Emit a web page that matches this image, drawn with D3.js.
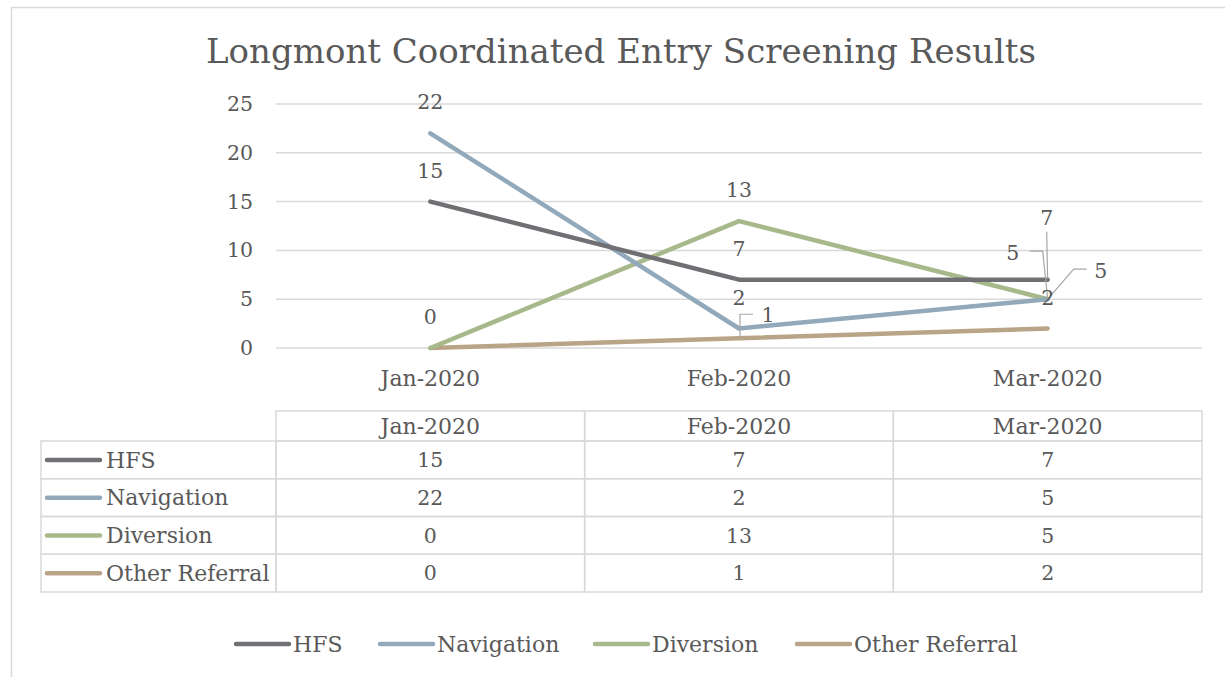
<!DOCTYPE html>
<html>
<head>
<meta charset="utf-8">
<script src="https://cdn.jsdelivr.net/npm/d3@7"></script>
<style>
  body { margin: 0; background: #fff; }
  text { font-family: "DejaVu Serif", serif; fill: #595959; }
</style>
</head>
<body>
<div id="chart"></div>
<script>
// chart data
var months = ["Jan-2020", "Feb-2020", "Mar-2020"];
var seriesNames = ["HFS", "Navigation", "Diversion", "Other Referral"];
var hfs = [15, 7, 7];
var navigation = [22, 2, 5];
var diversion = [0, 13, 5];
var otherReferral = [0, 1, 2];
var yTicks = [0, 5, 10, 15, 20, 25];

var colors = ["#706f74", "#91a9ba", "#a7b98a", "#b9a487"];
var allValues = [hfs, navigation, diversion, otherReferral];

var W = 1225, H = 677;
var plot = { left: 276, right: 1202, top: 104, bottom: 348 };
var wordSize = "22px", numSize = "20.5px";

var svg = d3.select("#chart").append("svg")
    .attr("width", W)
    .attr("height", H);

// outer chart border
svg.append("rect")
    .attr("x", 11.5).attr("y", 7.5)
    .attr("width", W).attr("height", H)
    .attr("fill", "#fff")
    .attr("stroke", "#d9d9d9")
    .attr("stroke-width", 1.5);

svg.append("text")
    .attr("x", 621).attr("y", 63)
    .attr("text-anchor", "middle")
    .style("font-size", "34px")
    .text("Longmont Coordinated Entry Screening Results");

var x = d3.scaleBand().domain(months).range([plot.left, plot.right]);
var y = d3.scaleLinear().domain([0, 25]).range([plot.bottom, plot.top]);

// gridlines
svg.append("g").selectAll("line")
    .data(yTicks)
    .enter().append("line")
    .attr("x1", plot.left).attr("x2", plot.right)
    .attr("y1", function (d) { return y(d); })
    .attr("y2", function (d) { return y(d); })
    .attr("stroke", "#d9d9d9")
    .attr("stroke-width", 1.5);

// y axis labels
var yAxis = svg.append("g")
    .attr("transform", "translate(" + (plot.left - 23) + ",0)")
    .call(d3.axisLeft(y).tickValues(yTicks).tickSize(0).tickPadding(0));
yAxis.select(".domain").remove();
yAxis.selectAll("text")
    .style("font-size", numSize)
    .style("font-family", "DejaVu Serif, serif")
    .attr("fill", "#595959");

// x axis labels
var xAxis = svg.append("g")
    .attr("transform", "translate(0," + plot.bottom + ")")
    .call(d3.axisBottom(x).tickSize(0).tickPadding(22));
xAxis.select(".domain").remove();
xAxis.selectAll("text")
    .style("font-size", wordSize)
    .style("font-family", "DejaVu Serif, serif")
    .attr("fill", "#595959");

var cx = function (i) { return x(months[i]) + x.bandwidth() / 2; };

var line = d3.line()
    .x(function (d, i) { return cx(i); })
    .y(function (d) { return y(d); });

// draw lines back to front so HFS sits on top like the original
[3, 2, 1, 0].forEach(function (s) {
    svg.append("path")
        .datum(allValues[s])
        .attr("d", line)
        .attr("fill", "none")
        .attr("stroke", colors[s])
        .attr("stroke-width", 4.5)
        .attr("stroke-linecap", "round")
        .attr("stroke-linejoin", "round");
});

// data labels: default is centred above the point; a few were dragged in the original
var labelMoves = {
    "3-0": null,               // hidden under the diversion 0
    "3-1": { dx: 29, dy: -23, leader: "h" },
    "0-2": { dx: -1, dy: -62, leader: "v" },
    "1-2": { dx: -35, dy: -46, leader: "l" },
    "2-2": { dx: 53, dy: -28, leader: "r" }
};

var labels = svg.append("g");
allValues.forEach(function (vals, s) {
    vals.forEach(function (v, i) {
        var key = s + "-" + i;
        var px = cx(i), py = y(v);
        if (key in labelMoves && labelMoves[key] === null) return;
        var m = labelMoves[key] || { dx: 0, dy: -31 };
        var lx = px + m.dx, ly = py + m.dy;
        if (m.leader) {
            var pts;
            if (m.leader === "h") pts = [[px + 1, py - 2], [px + 1, ly - 1], [px + 14, ly - 1]];
            if (m.leader === "v") pts = [[lx, ly + 14], [px, py - 1]];
            if (m.leader === "l") pts = [[lx + 17, ly - 2], [lx + 30, ly - 2], [px, py - 1]];
            if (m.leader === "r") pts = [[lx - 14, ly - 2], [lx - 27, ly - 2], [px, py]];
            labels.append("path")
                .attr("d", d3.line()(pts))
                .attr("fill", "none")
                .attr("stroke", "#a6a6a6")
                .attr("stroke-width", 1.2);
        }
        labels.append("text")
            .attr("x", lx).attr("y", ly)
            .attr("dy", "0.35em")
            .attr("text-anchor", "middle")
            .style("font-size", numSize)
            .text(v);
    });
});

// data table under the plot
var table = { top: 411, headH: 30, rowH: 37.75, left: 41 };
var tg = svg.append("g");
var gridColor = "#d9d9d9";

// header cells
months.forEach(function (m) {
    tg.append("rect")
        .attr("x", x(m)).attr("y", table.top)
        .attr("width", x.bandwidth()).attr("height", table.headH)
        .attr("fill", "none").attr("stroke", gridColor).attr("stroke-width", 1.5);
    tg.append("text")
        .attr("x", x(m) + x.bandwidth() / 2)
        .attr("y", table.top + table.headH / 2)
        .attr("dy", "0.35em")
        .attr("text-anchor", "middle")
        .style("font-size", wordSize)
        .text(m);
});

seriesNames.forEach(function (name, s) {
    var ry = table.top + table.headH + s * table.rowH;
    tg.append("rect")
        .attr("x", table.left).attr("y", ry)
        .attr("width", plot.left - table.left).attr("height", table.rowH)
        .attr("fill", "none").attr("stroke", gridColor).attr("stroke-width", 1.5);
    tg.append("line")
        .attr("x1", table.left + 6).attr("x2", table.left + 59)
        .attr("y1", ry + table.rowH / 2).attr("y2", ry + table.rowH / 2)
        .attr("stroke", colors[s]).attr("stroke-width", 4.5)
        .attr("stroke-linecap", "round");
    tg.append("text")
        .attr("x", table.left + 65).attr("y", ry + table.rowH / 2)
        .attr("dy", "0.35em")
        .style("font-size", wordSize)
        .text(name);
    months.forEach(function (m, i) {
        tg.append("rect")
            .attr("x", x(m)).attr("y", ry)
            .attr("width", x.bandwidth()).attr("height", table.rowH)
            .attr("fill", "none").attr("stroke", gridColor).attr("stroke-width", 1.5);
        tg.append("text")
            .attr("x", x(m) + x.bandwidth() / 2)
            .attr("y", ry + table.rowH / 2)
            .attr("dy", "0.35em")
            .attr("text-anchor", "middle")
            .style("font-size", numSize)
            .text(allValues[s][i]);
    });
});

// legend
var legendX = [236, 380, 595, 797];
var lg = svg.append("g").attr("transform", "translate(0,644)");
seriesNames.forEach(function (name, s) {
    lg.append("line")
        .attr("x1", legendX[s]).attr("x2", legendX[s] + 53)
        .attr("y1", 0).attr("y2", 0)
        .attr("stroke", colors[s]).attr("stroke-width", 4.5)
        .attr("stroke-linecap", "round");
    lg.append("text")
        .attr("x", legendX[s] + 57).attr("y", 0)
        .attr("dy", "0.35em")
        .style("font-size", wordSize)
        .text(name);
});
</script>
</body>
</html>
